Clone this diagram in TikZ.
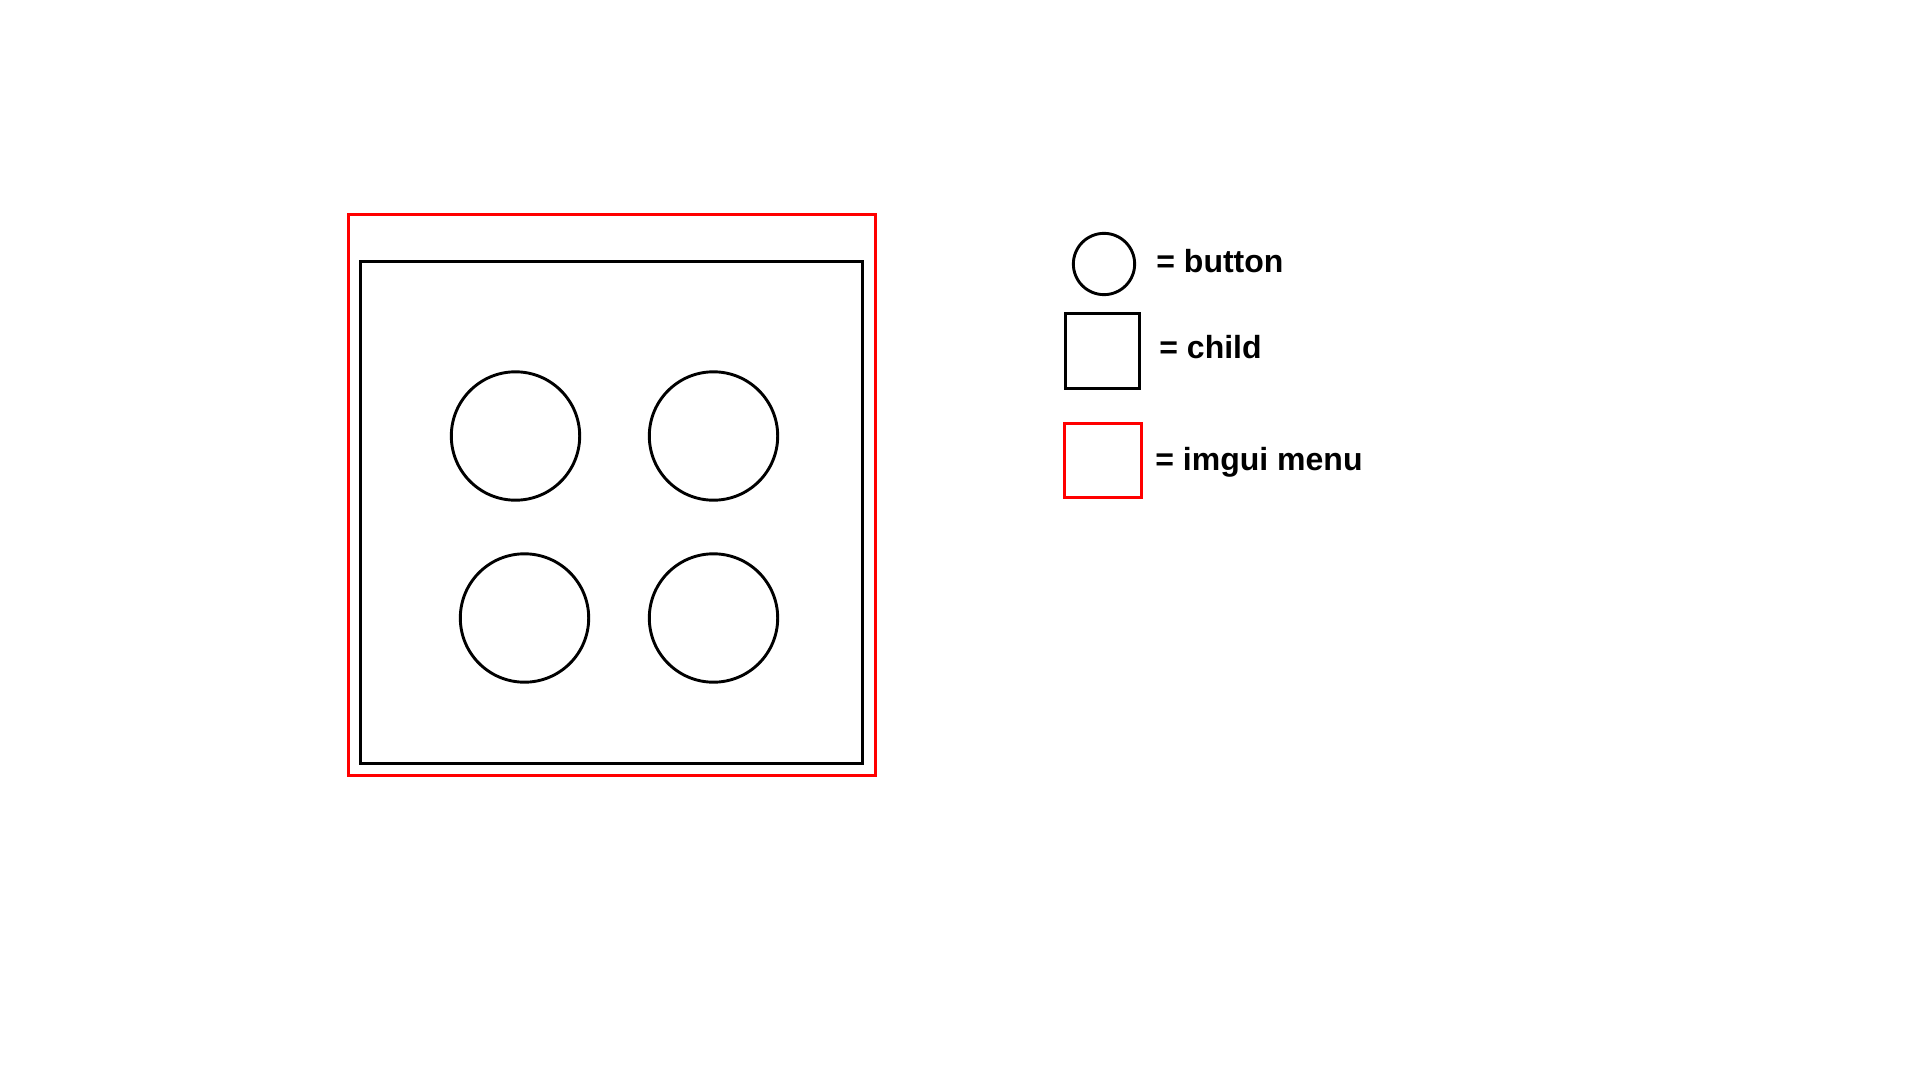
\documentclass[tikz,border=0pt]{standalone}
\usepackage{fontspec}
\setmainfont{Liberation Sans}
\usepackage{tikz}
\usetikzlibrary{positioning}

\begin{document}
\begin{tikzpicture}[
  x=0.5pt, y=-0.5pt,
  button/.style = {draw, circle, line width=1.45pt, inner sep=0pt, outer sep=0pt, minimum size=64.2pt},
  child/.style  = {draw, rectangle, line width=1.45pt, inner sep=0pt, outer sep=0pt},
  menu/.style   = {draw=red, rectangle, line width=1.4pt, inner sep=0pt, outer sep=0pt},
  legendtext/.style = {anchor=base west, inner sep=0pt, font=\fontsize{16pt}{19pt}\selectfont\bfseries}
]
  \useasboundingbox (0,0) rectangle (1920,1080);

  % Menu and child
  \node[menu, minimum width=263.3pt, minimum height=280.3pt] (menubox) at (612,495) {};
  \node[child, minimum width=250.8pt, minimum height=251pt] (childbox) at (611.5,512.3) {};

  % Buttons
  \node[button] (btn_a) at (515.5,436) {};
  \node[button] (btn_b) at (713.5,436) {};
  \node[button] (btn_c) at (524.5,618) {};
  \node[button] (btn_d) at (713.5,618) {};

  % Legend
  \node[button, minimum size=30.65pt] (key_button) at (1104,264) {};
  \node[child, minimum width=37.2pt, minimum height=37.2pt] (key_child) at (1102.5,351) {};
  \node[menu, minimum width=38.7pt, minimum height=37.2pt] (key_menu) at (1103,460.5) {};

  \node[legendtext] (lbl_button) at (1156,273) {= button};
  \node[legendtext] (lbl_child) at (1159,358) {= child};
  \node[legendtext] (lbl_menu) at (1155,470) {= imgui menu};

\end{tikzpicture}
\end{document}
